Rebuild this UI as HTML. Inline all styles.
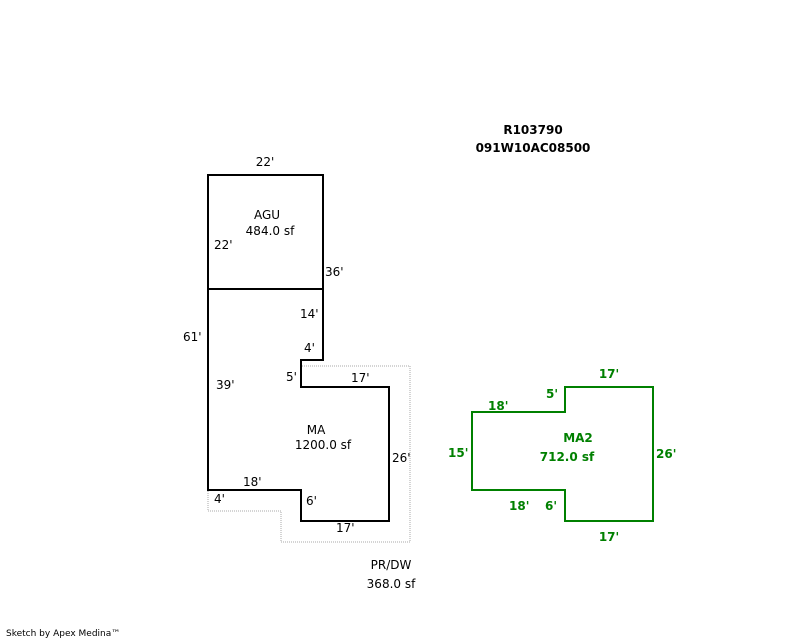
<!DOCTYPE html>
<html><head><meta charset="utf-8"><style>
html,body{margin:0;padding:0;background:#fff;width:800px;height:640px;overflow:hidden}
svg text{font-family:"DejaVu Sans","Liberation Sans",sans-serif;font-size:12px}
.g text{fill:#008000;font-weight:bold}
</style></head><body>
<svg width="800" height="640" xmlns="http://www.w3.org/2000/svg">
<text x="533" y="134" text-anchor="middle" font-weight="bold">R103790</text>
<text x="533" y="152" text-anchor="middle" font-weight="bold">091W10AC08500</text>
<polyline points="302,366 410,366 410,542 281,542 281,511 208,511 208,490" fill="none" stroke="#aaa" stroke-width="1" stroke-dasharray="1,1"/>
<rect x="208" y="175" width="115" height="114" fill="none" stroke="#000" stroke-width="2"/>
<polygon points="208,289 323,289 323,360 301,360 301,387 389,387 389,521 301,521 301,490 208,490" fill="none" stroke="#000" stroke-width="2"/>
<text x="265" y="166" text-anchor="middle">22'</text>
<text x="267" y="219" text-anchor="middle">AGU</text>
<text x="270" y="235" text-anchor="middle">484.0 sf</text>
<text x="214" y="249">22'</text>
<text x="325" y="276">36'</text>
<text x="183" y="341">61'</text>
<text x="300" y="318">14'</text>
<text x="304" y="352">4'</text>
<text x="286" y="381">5'</text>
<text x="351" y="382">17'</text>
<text x="216" y="389">39'</text>
<text x="316" y="434" text-anchor="middle">MA</text>
<text x="323" y="449" text-anchor="middle">1200.0 sf</text>
<text x="392" y="462">26'</text>
<text x="243" y="486">18'</text>
<text x="214" y="503">4'</text>
<text x="306" y="505">6'</text>
<text x="336" y="532">17'</text>
<text x="391" y="569" text-anchor="middle">PR/DW</text>
<text x="391" y="588" text-anchor="middle">368.0 sf</text>
<g class="g">
<polygon points="472,412 565,412 565,387 653,387 653,521 565,521 565,490 472,490" fill="none" stroke="#008000" stroke-width="2"/>
<text x="609" y="378" text-anchor="middle">17'</text>
<text x="546" y="398">5'</text>
<text x="488" y="410">18'</text>
<text x="448" y="457">15'</text>
<text x="578" y="442" text-anchor="middle">MA2</text>
<text x="567" y="461" text-anchor="middle">712.0 sf</text>
<text x="656" y="458">26'</text>
<text x="509" y="510">18'</text>
<text x="545" y="510">6'</text>
<text x="609" y="541" text-anchor="middle">17'</text>
</g>
<text x="6" y="636" style="font-size:9px">Sketch by Apex Medina™</text>
</svg>
</body></html>
